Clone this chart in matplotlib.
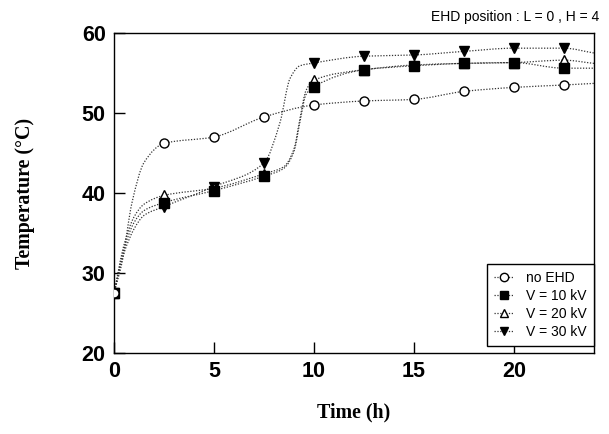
import numpy as np
import matplotlib
matplotlib.use("Agg")
import matplotlib.pyplot as plt
from matplotlib.path import Path
from matplotlib.patches import PathPatch
from matplotlib.lines import Line2D

# times (h) where the markers sit
t_marks = [0, 2.5, 5, 7.5, 10, 12.5, 15, 17.5, 20, 22.5]

# curve knots (markers + points on the line between them)
t_noehd = [0, 0.4, 0.9, 1.5, 2.5, 5, 7.5, 10, 12.5, 15, 17.5, 20, 22.5, 24]
temp_noehd = [27.5, 31.3, 38.8, 43.8, 46.2, 47.0, 49.5, 51.0, 51.5, 51.7, 52.7, 53.2, 53.5, 53.7]

t_10kv = [0, 0.5, 1.0, 1.5, 2.5, 5, 7.5, 8.5, 9.0, 9.3, 9.6, 10, 12.5, 15, 17.5, 20, 22.5, 24]
temp_10kv = [27.5, 33.0, 36.3, 37.8, 38.8, 40.3, 42.1, 43.1, 45.2, 48.9, 52.3, 53.3,
             55.4, 55.9, 56.2, 56.3, 55.6, 55.6]

t_20kv = [0, 0.5, 1.0, 1.5, 2.5, 5, 7.5, 8.5, 9.0, 9.3, 9.6, 10, 12.5, 15, 17.5, 20, 22.5, 24]
temp_20kv = [27.5, 33.5, 37.0, 38.6, 39.7, 40.6, 42.4, 43.3, 45.5, 49.3, 52.8, 54.1,
             55.4, 56.0, 56.2, 56.3, 56.6, 56.2]

t_30kv = [0, 0.5, 1.0, 1.5, 2.5, 5, 7.5, 8.3, 8.8, 9.3, 10, 12.5, 15, 17.5, 20, 22.5, 24]
temp_30kv = [27.5, 32.5, 35.5, 37.2, 38.3, 40.8, 43.75, 48.8, 54.3, 55.9, 56.25,
             57.1, 57.25, 57.7, 58.1, 58.1, 57.5]

labels = ["no EHD", "V = 10 kV", "V = 20 kV", "V = 30 kV"]


def smooth_path(t, y):
    # monotone cubic (pchip-like) tangents, drawn as bezier segments
    t = np.asarray(t, float)
    y = np.asarray(y, float)
    h = np.diff(t)
    d = np.diff(y) / h
    m = np.zeros_like(y)
    for k in range(1, len(y) - 1):
        if d[k - 1] * d[k] > 0:
            w1 = 2 * h[k] + h[k - 1]
            w2 = h[k] + 2 * h[k - 1]
            m[k] = (w1 + w2) / (w1 / d[k - 1] + w2 / d[k])
    m[0] = d[0]
    m[-1] = d[-1]
    verts = [(t[0], y[0])]
    for k in range(len(h)):
        verts.append((t[k] + h[k] / 3, y[k] + m[k] * h[k] / 3))
        verts.append((t[k + 1] - h[k] / 3, y[k + 1] - m[k + 1] * h[k] / 3))
        verts.append((t[k + 1], y[k + 1]))
    codes = [Path.MOVETO] + [Path.CURVE4] * (3 * len(h))
    return Path(verts, codes)


fig = plt.figure(figsize=(6.09, 4.34), dpi=100)
ax = fig.add_axes([0.1872, 0.1866, 0.788, 0.7374])

dots = (0, (1, 1.3))
lcol = "#333333"
series = [
    (t_30kv, temp_30kv, "v", "k", 3),
    (t_20kv, temp_20kv, "^", "white", 3.1),
    (t_10kv, temp_10kv, "s", "k", 3.2),
    (t_noehd, temp_noehd, "o", "white", 3.3),
]
for t, y, mk, fc, z in series:
    ax.add_patch(PathPatch(smooth_path(t, y), fill=False, ls=dots, lw=0.9,
                           ec=lcol, zorder=2))
    t = np.asarray(t)
    y = np.asarray(y)
    sel = np.isin(t, t_marks)
    ax.plot(t[sel], y[sel], ls="none", marker=mk, ms=6.5, mfc=fc, mec="k",
            mew=1, zorder=z)

handles = [
    Line2D([], [], ls=dots, lw=0.9, color=lcol, marker="o", mfc="white", mec="k", ms=6),
    Line2D([], [], ls=dots, lw=0.9, color=lcol, marker="s", mfc="k", mec="k", ms=6),
    Line2D([], [], ls=dots, lw=0.9, color=lcol, marker="^", mfc="white", mec="k", ms=6),
    Line2D([], [], ls=dots, lw=0.9, color=lcol, marker="v", mfc="k", mec="k", ms=6),
]
leg = ax.legend(handles, labels, loc="lower right", bbox_to_anchor=(1.0, 0.022),
                borderaxespad=0, fancybox=False, framealpha=1, edgecolor="k",
                handlelength=1.4, handletextpad=0.9, labelspacing=0.3,
                borderpad=0.5, prop={"family": "Liberation Sans", "size": 10})
leg.get_frame().set_linewidth(1.0)

ax.set_xlim(0, 24)
ax.set_ylim(20, 60)
ax.set_xticks([0, 5, 10, 15, 20])
ax.set_yticks([20, 30, 40, 50, 60])
ax.tick_params(direction="in", length=8, width=1, top=False, right=False,
               labelsize=15.5, pad=6)
for lab in ax.get_xticklabels() + ax.get_yticklabels():
    lab.set_fontfamily("Liberation Sans")
    lab.set_fontweight("bold")
for sp in ax.spines.values():
    sp.set_linewidth(1.0)

ax.set_xlabel("Time (h)", family="Liberation Serif", weight="bold", size=14.4)
ax.set_ylabel("Temperature (\u00b0C)", family="Liberation Serif", weight="bold", size=14.4)
ax.xaxis.set_label_coords(0.5, -0.155)
ax.yaxis.set_label_coords(-0.165, 0.5)

fig.text(599 / 609, 1 - 21 / 434, "EHD position : L = 0 , H = 4", ha="right",
         va="baseline", family="Liberation Sans", size=10)

fig.savefig("out.png", dpi=100)
